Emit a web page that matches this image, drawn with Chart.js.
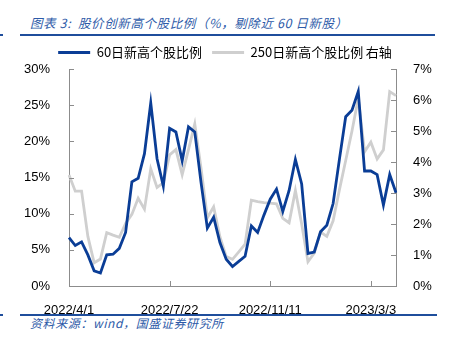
<!DOCTYPE html>
<html><head><meta charset="utf-8">
<script src="https://cdn.jsdelivr.net/npm/chart.js@4/dist/chart.umd.min.js"></script>
<style>
html,body{margin:0;padding:0;background:#fff;width:450px;height:339px;overflow:hidden;}
body{position:relative;font-family:"Noto Sans CJK SC","Noto Sans",sans-serif;}
#title{position:absolute;left:30px;top:15px;font-size:12.5px;line-height:16px;color:#2d5aa8;font-style:italic;white-space:nowrap;letter-spacing:0.6px;}
.rule{position:absolute;height:2px;background:#1f4e9c;}
#src{position:absolute;left:30px;top:315px;font-size:12px;line-height:16px;color:#2d5aa8;font-style:italic;white-space:nowrap;letter-spacing:0.6px;}
#wrap{position:absolute;left:0;top:36px;width:450px;height:278px;}
</style></head>
<body>
<div id="title">图表 3:&nbsp; 股价创新高个股比例（%，剔除近 60 日新股）</div>
<div class="rule" style="left:0;top:34px;width:3px;"></div>
<div class="rule" style="left:20px;top:34px;width:415px;"></div>
<div id="wrap"><canvas id="c"></canvas></div>
<div class="rule" style="left:0;top:314px;width:3px;"></div>
<div class="rule" style="left:20px;top:314px;width:417px;"></div>
<div id="src">资料来源：wind，国盛证券研究所</div>
<script>
const dates = ['2022/4/1','2022/4/8','2022/4/15','2022/4/22','2022/4/29','2022/5/6','2022/5/13','2022/5/20','2022/5/27','2022/6/3','2022/6/10','2022/6/17','2022/6/24','2022/7/1','2022/7/8','2022/7/15','2022/7/22','2022/7/29','2022/8/5','2022/8/12','2022/8/19','2022/8/26','2022/9/2','2022/9/9','2022/9/16','2022/9/23','2022/9/30','2022/10/7','2022/10/14','2022/10/21','2022/10/28','2022/11/4','2022/11/11','2022/11/18','2022/11/25','2022/12/2','2022/12/9','2022/12/16','2022/12/23','2022/12/30','2023/1/6','2023/1/13','2023/1/20','2023/1/27','2023/2/3','2023/2/10','2023/2/17','2023/2/24','2023/3/3','2023/3/10','2023/3/17','2023/3/24','2023/3/31'];
const shownDates = ['2022/4/1','2022/7/22','2022/11/11','2023/3/3'];
const share60 = [6.7,5.6,6.1,4.3,2.1,1.8,4.3,4.4,5.2,7.4,14.4,14.9,18.3,25.3,17.6,13.8,21.8,21.3,17.3,22.0,21.3,14.3,8.0,9.5,6.0,3.7,2.7,3.4,4.1,8.3,7.4,9.8,12.0,13.4,10.3,13.2,17.5,14.1,4.5,4.7,7.5,8.4,11.4,17.5,23.4,24.3,26.9,15.9,15.9,15.4,11.2,15.4,12.9];
const share250 = [3.58,3.06,3.06,1.6,0.75,0.87,1.72,1.64,1.57,2.02,2.31,2.83,2.48,3.78,3.18,3.33,4.23,4.4,3.59,4.4,5.23,3.8,2.2,2.55,1.59,0.95,0.86,1.1,1.35,2.77,2.72,2.69,2.67,2.65,2.18,2.04,3.08,2.0,0.78,1.06,1.74,1.6,2.1,3.1,4.05,5.0,6.05,4.33,4.64,4.1,4.39,6.27,6.14];
const leftTicks = [0,5,10,15,20,25,30];
const rightTicks = [0,1,2,3,4,5,6,7];

const axisColor = '#8c8c8c';
const tickFont = {family:'"Liberation Sans", Arial, sans-serif', size:13};

const innerTicks = {
  id:'innerTicks',
  afterDraw(chart){
    const ctx = chart.ctx, a = chart.chartArea;
    const x = chart.scales.x, y = chart.scales.y, y1 = chart.scales.y1;
    ctx.save();
    ctx.strokeStyle = axisColor; ctx.lineWidth = 1;
    ctx.beginPath();
    dates.forEach((d,i)=>{
      if (shownDates.includes(d) && i>0){
        const px = Math.round(x.getPixelForValue(i))+0.5;
        ctx.moveTo(px, a.bottom); ctx.lineTo(px, a.bottom-5);
      }
    });
    leftTicks.forEach(v=>{
      const py = Math.round(y.getPixelForValue(v))+0.5;
      ctx.moveTo(a.left, py); ctx.lineTo(a.left+5, py);
    });
    rightTicks.forEach(v=>{
      const py = Math.round(y1.getPixelForValue(v))+0.5;
      ctx.moveTo(a.right, py); ctx.lineTo(a.right-5, py);
    });
    ctx.stroke();
    ctx.restore();
  }
};

new Chart(document.getElementById('c'), {
  type:'line',
  data:{
    labels: dates,
    datasets:[
      {label:'60日新高个股比例', data:share60, yAxisID:'y', borderColor:'#0a3d96', backgroundColor:'#0a3d96', borderWidth:2.8, pointRadius:0, tension:0},
      {label:'250日新高个股比例\u2009右轴', data:share250, yAxisID:'y1', borderColor:'#cfcfcf', backgroundColor:'#cfcfcf', borderWidth:2.8, pointRadius:0, tension:0}
    ]
  },
  options:{
    responsive:true, maintainAspectRatio:false, animation:false,
    layout:{padding:0},
    plugins:{
      legend:{position:'top', labels:{boxWidth:32, boxHeight:3, padding:10, color:'#000', font:{family:'"Noto Sans CJK SC", sans-serif', size:13},
        generateLabels(chart){
          const items = Chart.defaults.plugins.legend.labels.generateLabels(chart);
          items.forEach(it=>{ it.lineWidth = 0; it.strokeStyle = 'rgba(0,0,0,0)'; });
          return items;
        }}},
      tooltip:{enabled:false}
    },
    scales:{
      x:{type:'category', offset:false, grid:{display:false}, border:{display:true, color:axisColor, width:1},
         ticks:{autoSkip:false, maxRotation:0, padding:9, color:'#000', font:tickFont,
           callback:(v,i)=> shownDates.includes(dates[i]) ? dates[i] : null},
         afterFit:s=>{s.height=28;}},
      y:{position:'left', min:0, max:30, grid:{display:false}, border:{display:true, color:axisColor, width:1},
         ticks:{stepSize:5, padding:11, color:'#000', font:tickFont, callback:v=>v+'%'},
         afterFit:s=>{s.width=69;}},
      y1:{position:'right', min:0, max:7, grid:{display:false}, border:{display:true, color:axisColor, width:1},
         ticks:{stepSize:1, padding:9, color:'#000', font:tickFont, callback:v=>v+'%'},
         afterFit:s=>{s.width=54;}}
    }
  },
  plugins:[innerTicks]
});
</script>
</body></html>
